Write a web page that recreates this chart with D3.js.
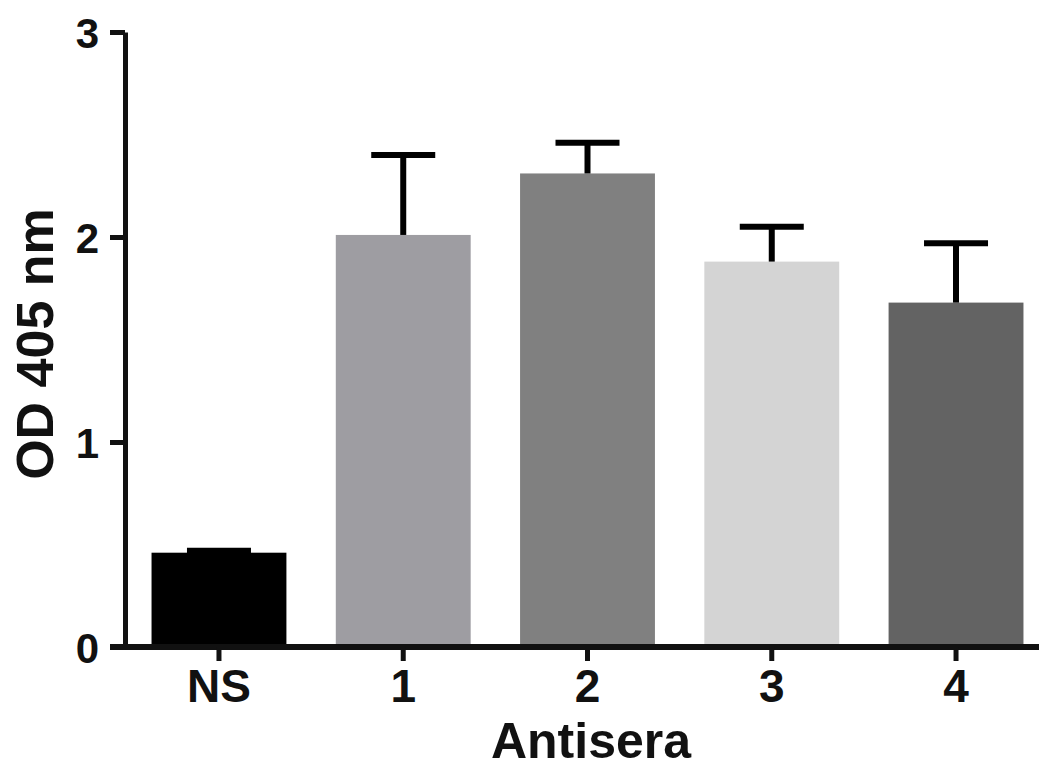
<!DOCTYPE html>
<html>
<head>
<meta charset="utf-8">
<script src="https://cdn.jsdelivr.net/npm/d3@7"></script>
<style>
  html, body { margin: 0; padding: 0; background: #fff; }
  svg { display: block; }
  text { font-family: "Liberation Sans", Arial, sans-serif; font-weight: bold; fill: #111; }
</style>
</head>
<body>
<svg id="chart" width="1039" height="768"></svg>
<script>
const categories = ["NS", "1", "2", "3", "4"];
const means = [0.46, 2.01, 2.31, 1.88, 1.68];
const errorTops = [0.47, 2.40, 2.46, 2.05, 1.97];
const barColors = ["#000000", "#9e9da2", "#808080", "#d4d4d4", "#636363"];
const yTicks = [0, 1, 2, 3];
const xTitle = "Antisera";
const yTitle = "OD 405 nm";

const svg = d3.select("#chart");

const y = d3.scaleLinear().domain([0, 3]).range([647, 32]);
const x = d3.scaleBand().domain(categories).range([125, 1050])
  .paddingInner(0.268).paddingOuter(0.144);

// bars
svg.append("g").selectAll("rect").data(categories).join("rect")
  .attr("x", d => x(d))
  .attr("y", (d, i) => y(means[i]))
  .attr("width", x.bandwidth())
  .attr("height", (d, i) => y(0) - y(means[i]))
  .attr("fill", (d, i) => barColors[i]);

// error bars
const eb = svg.append("g").attr("stroke", "#000");
const capW = 64;
eb.selectAll("line.stem").data(categories).join("line")
  .attr("class", "stem")
  .attr("x1", d => x(d) + x.bandwidth() / 2)
  .attr("x2", d => x(d) + x.bandwidth() / 2)
  .attr("y1", (d, i) => y(means[i]))
  .attr("y2", (d, i) => y(errorTops[i]))
  .attr("stroke-width", 6);
eb.selectAll("line.cap").data(categories).join("line")
  .attr("class", "cap")
  .attr("x1", d => x(d) + x.bandwidth() / 2 - capW / 2)
  .attr("x2", d => x(d) + x.bandwidth() / 2 + capW / 2)
  .attr("y1", (d, i) => y(errorTops[i]))
  .attr("y2", (d, i) => y(errorTops[i]))
  .attr("stroke-width", 6);

// y axis
const yAxis = svg.append("g").attr("transform", "translate(125,0)")
  .call(d3.axisLeft(y).tickValues(yTicks).tickFormat(d3.format("d")).tickSize(15).tickPadding(11).tickSizeOuter(0));
yAxis.select(".domain").attr("stroke", "#111").attr("stroke-width", 5);
yAxis.selectAll(".tick line").attr("stroke", "#111").attr("stroke-width", 5);
yAxis.selectAll(".tick text").style("font-size", "42px").attr("fill", "#111").attr("dy", "0.36em");

// x axis
const xAxis = svg.append("g").attr("transform", "translate(0,647)")
  .call(d3.axisBottom(x).tickSize(14).tickPadding(8).tickSizeOuter(0));
xAxis.select(".domain").attr("d", "M110,0H1039").attr("stroke", "#111").attr("stroke-width", 6);
xAxis.selectAll(".tick line").attr("stroke", "#111").attr("stroke-width", 5);
xAxis.selectAll(".tick text").style("font-size", "46px").attr("fill", "#111").attr("dy", "0.72em");

// titles
svg.append("text")
  .attr("x", 591).attr("y", 758)
  .attr("text-anchor", "middle")
  .style("font-size", "50px")
  .text(xTitle);

svg.append("text")
  .attr("transform", "translate(53,344) rotate(-90)")
  .attr("text-anchor", "middle")
  .style("font-size", "52px")
  .text(yTitle);
</script>
</body>
</html>
